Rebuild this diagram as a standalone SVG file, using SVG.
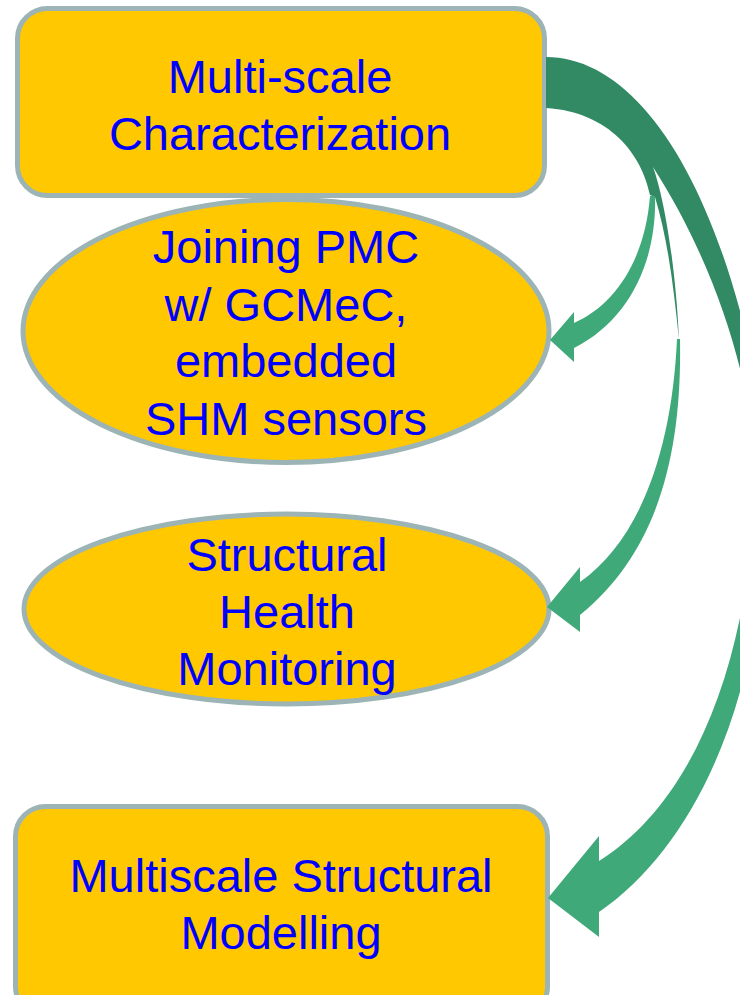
<svg xmlns="http://www.w3.org/2000/svg" width="740" height="995" viewBox="0 0 740 995">
  <style>
    .node { fill: #FFC800; stroke: #9CB4B6; stroke-width: 5; }
    .lbl { font-family: "Liberation Sans", Arial, sans-serif; font-size: 47px; fill: #0000FF; text-anchor: middle; }
    .dark { fill: #318A63; }
    .light { fill: #40A97A; }
  </style>
  <rect width="740" height="995" fill="#FFFFFF"/>
  <g id="node-characterization">
    <rect class="node" x="17.5" y="8.5" width="527" height="187" rx="30" ry="30"/>
    <text class="lbl" x="280" y="93">Multi-scale</text>
    <text class="lbl" x="280" y="150">Characterization</text>
  </g>
  <g id="node-joining">
    <ellipse class="node" cx="286" cy="331" rx="263" ry="131.5"/>
    <text class="lbl" x="286" y="263">Joining PMC</text>
    <text class="lbl" x="286" y="321">w/ GCMeC,</text>
    <text class="lbl" x="286" y="377">embedded</text>
    <text class="lbl" x="286" y="435">SHM sensors</text>
  </g>
  <g id="node-shm">
    <ellipse class="node" cx="286.5" cy="609" rx="262.5" ry="95"/>
    <text class="lbl" x="287" y="571">Structural</text>
    <text class="lbl" x="287" y="628">Health</text>
    <text class="lbl" x="287" y="685">Monitoring</text>
  </g>
  <g id="node-modelling">
    <rect class="node" x="15.5" y="806.5" width="532" height="210" rx="30" ry="30"/>
    <text class="lbl" x="281" y="892">Multiscale Structural</text>
    <text class="lbl" x="281" y="949">Modelling</text>
  </g>
  <g id="connectors">
    <path class="dark" d="M 546,57 C 625,57 700,150 745,330 L 760,400 L 750,420 L 745,390 C 730,320 700,240 653,167 C 665,200 676,270 679,340 C 674,290 668,240 655,197 L 650,195 C 642,155 610,112 546,108 Z"/>
    <path class="light" d="M 650,196 L 655,196 C 657,260 630,320 574,348 L 574,362 L 550,340 L 574,312 L 574,323 C 615,305 645,260 650,196 Z"/>
    <path class="light" d="M 677,339 L 680,339 C 682,450 660,550 580,615 L 580,632 L 547,607 L 580,567 L 580,582 C 640,540 672,450 677,339 Z"/>
    <path class="light" d="M 752,540 L 762,540 C 758,710 690,850 599,912 L 599,937 L 548,898 L 599,836 L 599,861 C 680,810 735,700 752,540 Z"/>
  </g>
</svg>
